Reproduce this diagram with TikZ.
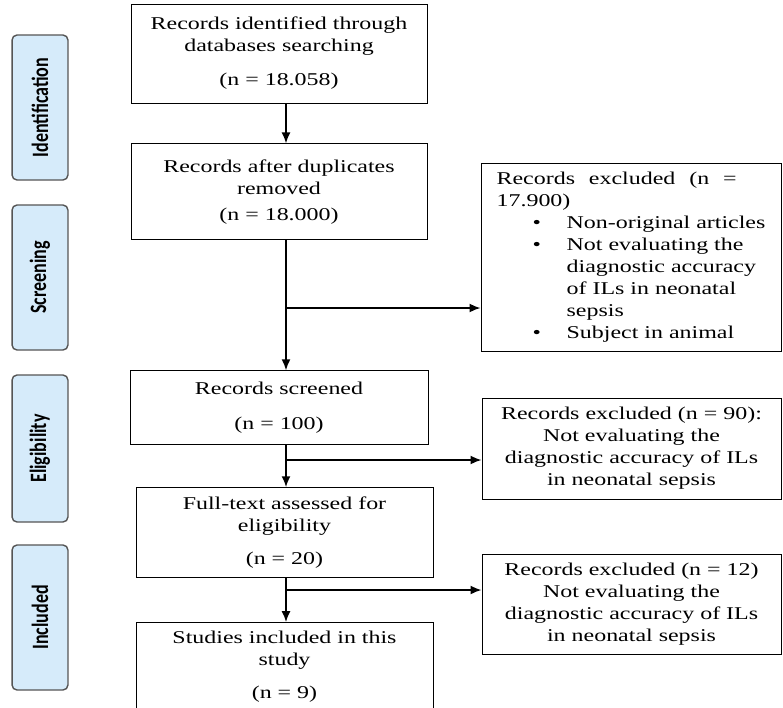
\documentclass[tikz,border=0pt]{standalone}
\usepackage{fontspec}
\setmainfont[FakeStretch=1.33]{Liberation Serif}
\newfontfamily\sidefont{Carlito}
\usepackage{tikz}
\usetikzlibrary{arrows.meta,positioning}
\definecolor{sidefill}{RGB}{214,235,250}
\definecolor{sideline}{RGB}{85,85,85}

\begin{document}
\begin{tikzpicture}[x=1pt,y=1pt,
  box/.style={draw,line width=0.9pt,align=center,inner sep=0pt,font=\fontsize{18}{22}\selectfont},
  side/.style={draw=sideline,fill=sidefill,line width=1.4pt,rounded corners=5pt,rotate=90,yscale=1.3,transform shape,minimum width=145pt,minimum height=43pt,inner sep=0pt,font=\sidefont\bfseries\fontsize{18}{20}\selectfont},
  arr/.style={-{Latex[length=11pt,width=9pt]},line width=1.8pt}, node distance=40pt]
\useasboundingbox (0,0) rectangle (783,-707);
\node[box,minimum width=296pt,minimum height=99pt] (rec) at (279,-53.5) {Records identified through\\databases searching\\[12pt](n = 18.058)};
\node[box,minimum width=296pt,minimum height=96pt,below=of rec] (dup) {Records after duplicates\\removed\\[4pt](n = 18.000)};
\node[box,minimum width=298pt,minimum height=74pt,below=130pt of dup] (scr) {Records screened\\[13pt](n = 100)};
\node[box,minimum width=297pt,minimum height=90pt,below=42pt of scr,xshift=5.5pt] (full) {Full-text assessed for\\eligibility\\[11pt](n = 20)};
\node[box,minimum width=297pt,minimum height=89pt,below=44pt of full] (inc) {Studies included in this\\study\\[11pt](n = 9)};
\node[box,align=left,minimum width=300pt,minimum height=188pt] (ex1) at (631,-257) {\makebox[240pt][s]{Records excluded (n =}\\17.900)\\\hspace*{36pt}\makebox[34pt][l]{\textbullet}Non-original articles\\\hspace*{36pt}\makebox[34pt][l]{\textbullet}Not evaluating the\\\hspace*{70pt}diagnostic accuracy\\\hspace*{70pt}of ILs in neonatal\\\hspace*{70pt}sepsis\\\hspace*{36pt}\makebox[34pt][l]{\textbullet}Subject in animal};
\node[box,minimum width=299pt,minimum height=101pt] (ex2) at (631.5,-448.5) {Records excluded (n = 90):\\Not evaluating the\\diagnostic accuracy of ILs\\in neonatal sepsis};
\node[box,minimum width=299pt,minimum height=100pt] (ex3) at (631.5,-604) {Records excluded (n = 12)\\Not evaluating the\\diagnostic accuracy of ILs\\in neonatal sepsis};
\node[side] (s1) at (40,-107.5) {Identification};
\node[side] (s2) at (40,-277.5) {Screening};
\node[side,minimum width=147pt] (s3) at (40,-448.5) {Eligibility};
\node[side] (s4) at (40,-617.5) {Included};
\coordinate (sp) at (286,0);
\coordinate (j1) at (286,-308);
\coordinate (j2) at (286,-460);
\coordinate (j3) at (286,-590);
\draw[arr] (rec.south -| sp) -- (dup.north -| sp);
\draw[arr] (dup.south -| sp) -- (scr.north -| sp);
\draw[arr] (scr.south -| sp) -- (full.north -| sp);
\draw[arr] (full.south -| sp) -- (inc.north -| sp);
\draw[arr] (j1) -- (j1 -| ex1.west);
\draw[arr] (j2) -- (j2 -| ex2.west);
\draw[arr] (j3) -- (j3 -| ex3.west);
\end{tikzpicture}
\end{document}
